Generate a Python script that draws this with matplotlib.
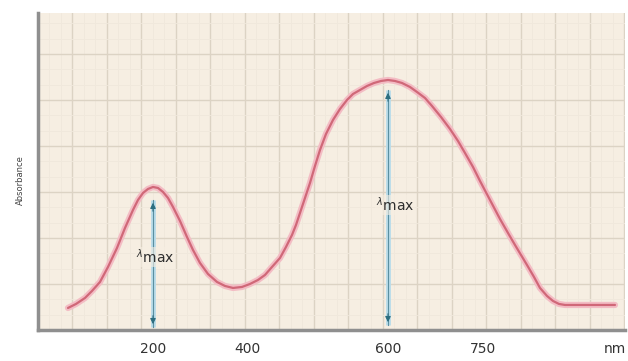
import numpy as np
import matplotlib.pyplot as plt
from matplotlib.ticker import MultipleLocator

# spectrum (x, y in plot pixels from the lower left corner)
curve_x = [30, 38, 47, 54, 62, 70, 79, 87, 95, 100, 105, 110, 115, 120, 125,
           130, 135, 142, 149, 155, 162, 170, 179, 187, 195, 204, 212, 220, 227, 234,
           242, 248, 254, 258, 262, 267, 272, 277, 282, 288, 295, 302, 309, 315, 322,
           329, 336, 343, 350, 357, 364, 372, 379, 387, 394, 403, 412, 420, 427, 435,
           442, 452, 462, 470, 477, 483, 489, 496, 502, 509, 515, 521, 527, 552, 577]
curve_y = [22, 26, 32, 39, 48, 63, 82, 102, 120, 130, 137, 141, 143, 142, 138,
           132, 123, 109, 93, 80, 67, 56, 48, 44, 42, 43, 46, 50, 55, 63,
           72, 83, 95, 105, 117, 132, 147, 164, 180, 196, 210, 221, 230, 236, 240,
           244, 247, 249, 250, 249, 247, 243, 238, 232, 224, 213, 201, 189, 177, 163,
           149, 130, 111, 97, 85, 75, 65, 53, 42, 34, 29, 26, 25, 25, 25]

tick_pos = [115, 209, 350, 445, 577]
tick_labels = ['200', '400', '600', '750', 'nm']

# lambda max arrows
peak_x = [115, 350]
peak_top = [130, 240]
peak_bottom = [3, 5]
label_x = [117, 357]
label_y = [73, 125]

bg = '#f6eee2'
fig = plt.figure(figsize=(6.28, 3.61), dpi=100)
ax = fig.add_axes([0.0605, 0.086, 0.9347, 0.878])
ax.set_facecolor(bg)

ax.set_xlim(0, 587)
ax.set_ylim(0, 317)

ax.xaxis.set_major_locator(MultipleLocator(34.5))
ax.yaxis.set_major_locator(MultipleLocator(46))
ax.xaxis.set_minor_locator(MultipleLocator(34.5 / 3))
ax.yaxis.set_minor_locator(MultipleLocator(46 / 3))
ax.grid(True, which='major', color='#dcd3c4', linewidth=1.0)
ax.grid(True, which='minor', color='#f0e8dc', linewidth=0.6)
ax.set_axisbelow(True)
ax.tick_params(which='both', length=0, labelleft=False, labelbottom=False)

for p, lab in zip(tick_pos, tick_labels):
    ax.text(p, -12, lab, ha='center', va='top', fontsize=10, color='#333333',
            clip_on=False)

for s in ['top', 'right']:
    ax.spines[s].set_visible(False)
for s in ['left', 'bottom']:
    ax.spines[s].set_color('#8f8f8f')
    ax.spines[s].set_linewidth(2.5)

# arrows
for px, top, bot in zip(peak_x, peak_top, peak_bottom):
    ax.plot([px, px], [bot, top], color='#b9dcea', linewidth=3.5, solid_capstyle='butt', zorder=3)
    ax.plot([px, px], [bot, top], color='#5a8fa0', linewidth=0.8, zorder=3)
    ax.annotate('', xy=(px, top), xytext=(px, top - 14),
                arrowprops=dict(arrowstyle='-|>', color='#2d6e80', lw=0.8,
                                mutation_scale=8), zorder=4)
    ax.annotate('', xy=(px, bot), xytext=(px, bot + 14),
                arrowprops=dict(arrowstyle='-|>', color='#2d6e80', lw=0.8,
                                mutation_scale=8), zorder=4)

for lx, ly in zip(label_x, label_y):
    ax.text(lx, ly, r'$^{\lambda}$max', ha='center', va='center', fontsize=10,
            color='#2e2e2e', zorder=5,
            bbox=dict(boxstyle='square,pad=0.05', facecolor=bg, edgecolor='none', alpha=0.6))

# spectrum line with soft glow
ax.plot(curve_x, curve_y, color='#f3bcc4', linewidth=4.5, solid_capstyle='round', zorder=2)
ax.plot(curve_x, curve_y, color='#d06878', linewidth=1.6, solid_capstyle='round', zorder=2)

fig.text(0.032, 0.5, 'Absorbance', rotation=90, ha='center', va='center',
         fontsize=6, color='#444444')

fig.savefig('out.png', dpi=100, facecolor='white')
